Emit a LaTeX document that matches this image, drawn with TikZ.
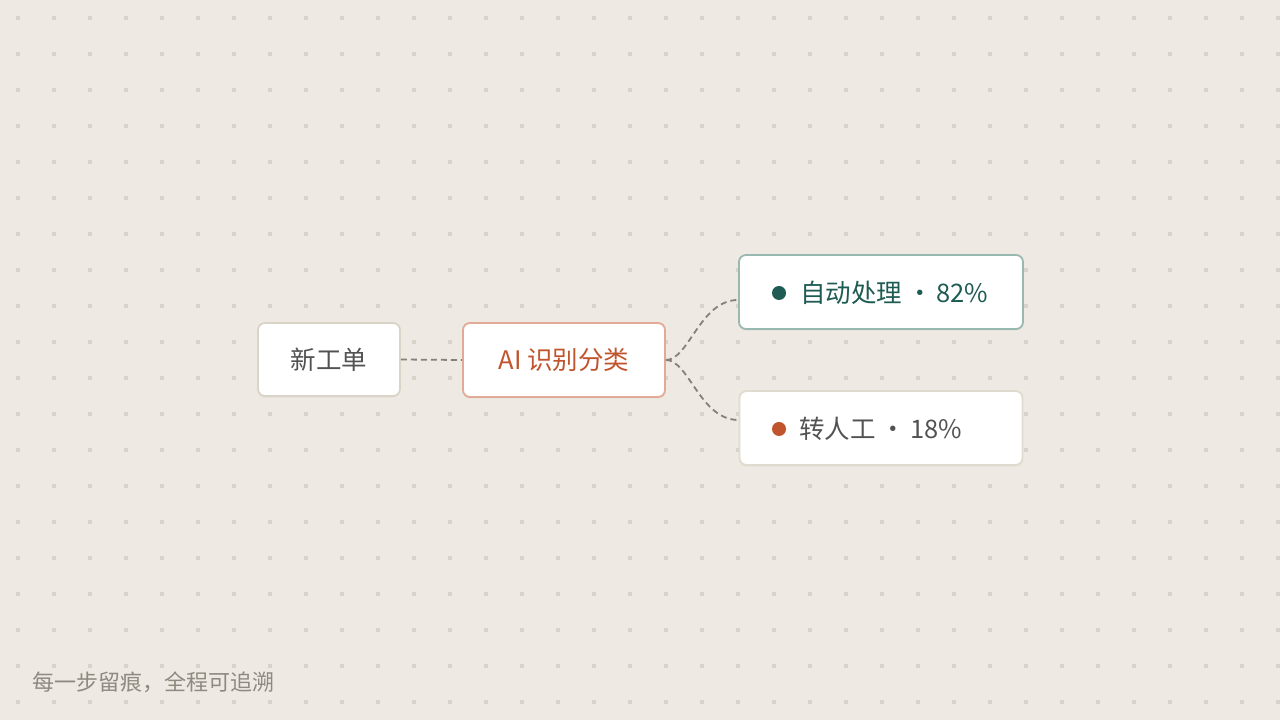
\documentclass[tikz,border=0pt]{standalone}
\usepackage{fontspec}
\setmainfont{Noto Sans CJK SC}
\usetikzlibrary{shadows,calc}
\definecolor{bgc}{HTML}{EEEAE3}
\definecolor{gridc}{HTML}{D8D3C8}
\definecolor{plainborder}{HTML}{DAD4C8}
\definecolor{aiborder}{HTML}{E2A997}
\definecolor{autoborder}{HTML}{98B8B0}
\definecolor{manborder}{HTML}{E0DBCF}
\definecolor{txtgray}{HTML}{525252}
\definecolor{orangec}{HTML}{C0542C}
\definecolor{tealc}{HTML}{1E5B52}
\definecolor{linkc}{HTML}{85817A}
\definecolor{footc}{HTML}{8E8A80}
\newcommand{\sepdot}{\hspace{5pt}·\hspace{4pt}}
\tikzset{
  card/.style={draw, fill=white, line width=1.8pt, rounded corners=7pt, inner sep=0pt,
    drop shadow={opacity=0.06, shadow xshift=0pt, shadow yshift=-2pt}},
  cardtext/.style={font=\fontsize{25.5}{30}\selectfont, inner sep=0pt},
  link/.style={draw=linkc, line width=1.8pt, dash pattern=on 6pt off 4pt},
  bullet/.style={circle, inner sep=0pt, minimum size=14pt}
}
\begin{document}
\begin{tikzpicture}[x=1pt,y=1pt]
\fill[bgc] (0,0) rectangle (1280,720);
\useasboundingbox (0,0) rectangle (1280,720);
% dot grid
\foreach \i in {0,...,35}{
  \foreach \j in {0,...,19}{
    \fill[gridc] ({18+36*\i-2},{720-(18+36*\j)-2}) rectangle ++(4,4);
  }
}
% nodes
\node[card, draw=plainborder, minimum width=142pt, minimum height=73pt] (n1) at (329,360.5) {};
\node[cardtext, text=txtgray] (t1) at (n1.center) {新工单};
\node[card, draw=aiborder, minimum width=202pt, minimum height=74pt] (n2) at (564,360) {};
\node[cardtext, text=orangec] (t2) at (n2.center) {AI 识别分类};
\node[card, draw=autoborder, minimum width=284pt, minimum height=74pt] (n3) at (881,428) {};
\node[bullet, fill=tealc] (d3) at (779,427) {};
\node[cardtext, text=tealc, anchor=west] (t3) at (800,427) {自动处理\sepdot 82\%};
\node[card, draw=manborder, minimum width=283pt, minimum height=74pt] (n4) at (881,292) {};
\node[bullet, fill=orangec] (d4) at (779,291) {};
\node[cardtext, text=txtgray, anchor=west] (t4) at (799,291) {转人工\sepdot 18\%};
% connectors
\coordinate (e3) at ($(n3.west)+(0,-8)$);
\coordinate (e4) at ($(n4.west)+(0,8)$);
\draw[link] (n1.east) -- (n2.west);
\draw[link] (n2.east) .. controls +(23,0) and (700,420) .. (e3);
\draw[link] (n2.east) .. controls +(23,0) and (700,300) .. (e4);
% footer
\node[anchor=west, text=footc, font=\fontsize{22}{26}\selectfont, inner sep=0pt] (foot) at (32,38) {每一步留痕，全程可追溯};
\end{tikzpicture}
\end{document}
